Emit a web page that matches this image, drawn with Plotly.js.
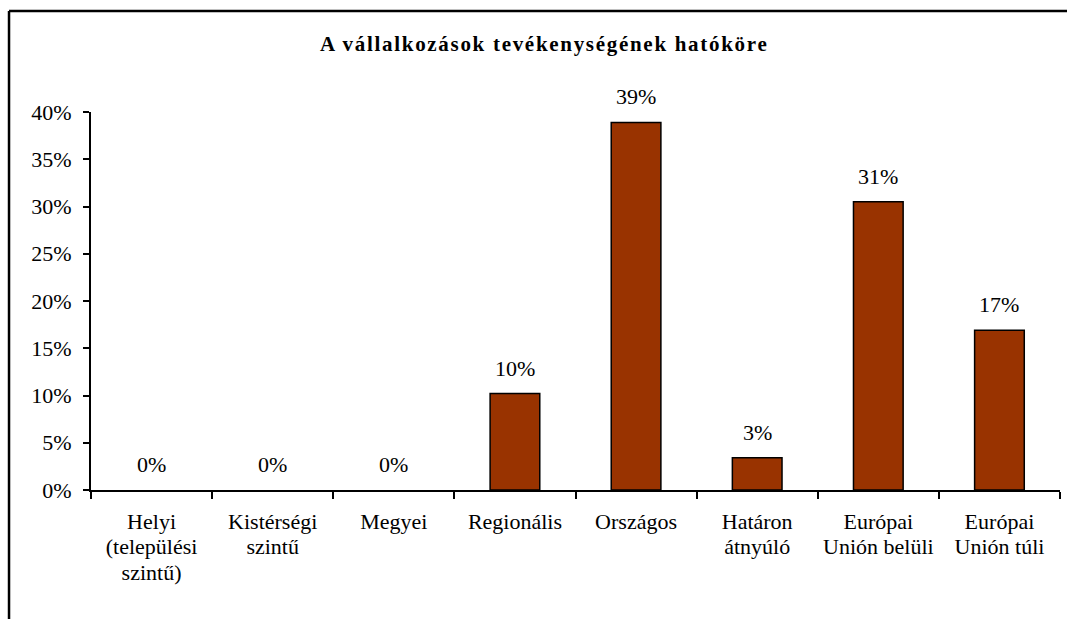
<!DOCTYPE html>
<html>
<head>
<meta charset="utf-8">
<script src="https://cdn.plot.ly/plotly-3.0.1.min.js"></script>
<style>
  html, body { margin: 0; padding: 0; background: #fff; }
  #chart { width: 1067px; height: 619px; }
  /* the title in the original is slightly spaced out */
  #chart text.gtitle { letter-spacing: 1.7px; }
</style>
</head>
<body>
<div id="chart"></div>
<script>
'use strict'

var categories = [
    'Helyi<br>(települési<br>szintű)',
    'Kistérségi<br>szintű',
    'Megyei',
    'Regionális',
    'Országos',
    'Határon<br>átnyúló',
    'Európai<br>Unión belüli',
    'Európai<br>Unión túli'
];
var shares = [0, 0, 0, 10.2, 38.9, 3.4, 30.5, 16.9];
var shareLabels = ['0%', '0%', '0%', '10%', '39%', '3%', '31%', '17%'];

var serif = '"Liberation Serif", "Times New Roman", Times, serif';

var bars = {
    type: 'bar',
    x: categories,
    y: shares,
    width: 0.41,
    marker: {
        color: '#993300',
        // no outline on empty bars
        line: {color: '#000', width: shares.map(v => v > 0 ? 1.5 : 0)}
    },
    hoverinfo: 'skip'
}

// value labels above each bar
var labels = shares.map(function(v, i) {
    return {
        x: categories[i],
        y: v,
        text: shareLabels[i],
        showarrow: false,
        yanchor: 'bottom',
        yshift: 11,
        font: {family: serif, size: 22, color: '#000'}
    }
});

var layout = {
    width: 1067,
    height: 619,
    margin: {l: 91, r: 7, t: 112, b: 129},
    paper_bgcolor: '#fff',
    plot_bgcolor: '#fff',
    showlegend: false,
    font: {family: serif, size: 22, color: '#000'},
    title: {
        text: '<b>A vállalkozások tevékenységének hatóköre</b>',
        font: {family: serif, size: 21, color: '#000'},
        x: 0.51,
        xanchor: 'center',
        y: 0.929,
        yanchor: 'middle'
    },
    xaxis: {
        type: 'category',
        showgrid: false,
        showline: true,
        linecolor: '#000',
        linewidth: 2,
        ticks: 'outside',
        tickson: 'boundaries',
        ticklen: 7,
        tickwidth: 2,
        tickcolor: '#000',
        ticklabelstandoff: 11,
        tickfont: {family: serif, size: 22, color: '#000'},
        fixedrange: true
    },
    yaxis: {
        range: [0, 40],
        dtick: 5,
        ticksuffix: '%',
        showgrid: false,
        zeroline: false,
        showline: true,
        linecolor: '#000',
        linewidth: 2,
        ticks: 'outside',
        ticklen: 6,
        tickwidth: 2,
        tickcolor: '#000',
        ticklabelstandoff: 7,
        tickfont: {family: serif, size: 22, color: '#000'},
        fixedrange: true
    },
    annotations: labels,
    shapes: [
        // chart frame, left and top edges
        {type: 'line', xref: 'paper', yref: 'paper',
         x0: -0.0846, x1: -0.0846, y0: -0.36, y1: 1.267,
         line: {color: '#000', width: 2.5}},
        {type: 'line', xref: 'paper', yref: 'paper',
         x0: -0.0846, x1: 1.02, y0: 1.267, y1: 1.267,
         line: {color: '#000', width: 2.5}}
    ]
}

Plotly.newPlot('chart', [bars], layout, {displayModeBar: false, staticPlot: true}).then(
    function(gd) {
        // tighter line spacing for the wrapped category names
        gd.querySelectorAll('.xtick text tspan.line').forEach(function(t) {
            var dy = parseFloat(t.getAttribute('dy'));
            if (dy) t.setAttribute('dy', (dy / 1.3 * 1.14) + 'em');
        });
    }
);
</script>
</body>
</html>
